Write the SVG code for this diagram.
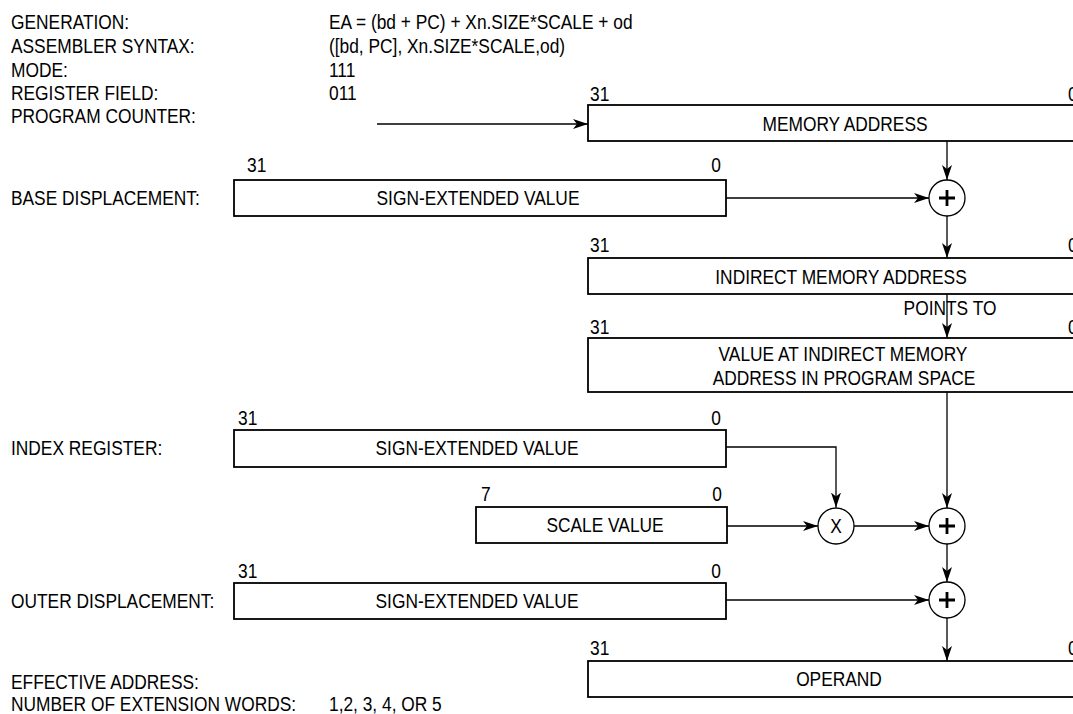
<svg xmlns="http://www.w3.org/2000/svg" width="1073" height="714" viewBox="0 0 1073 714">
<defs>
<style>
text{font-family:"Liberation Sans",Arial,sans-serif;font-size:19.5px;fill:#000}
.c{text-anchor:middle}
.e{text-anchor:end}
.box{fill:#fff;stroke:#000;stroke-width:1.8}
.ln{fill:none;stroke:#000;stroke-width:1.3}
.op{fill:#fff;stroke:#000;stroke-width:1.3}
.pl{fill:none;stroke:#000;stroke-width:2.8}
</style>
<marker id="ah" markerUnits="userSpaceOnUse" markerWidth="15" markerHeight="10" refX="15" refY="5" orient="auto">
<path d="M0,0 L15,5 L0,10 L4,5 Z" fill="#000"/>
</marker>
</defs>
<rect width="1073" height="714" fill="#fff"/>

<g id="header">
<text transform="translate(11 29) scale(0.89 1)">GENERATION:</text>
<text transform="translate(11 53) scale(0.89 1)">ASSEMBLER SYNTAX:</text>
<text transform="translate(11 77) scale(0.89 1)">MODE:</text>
<text transform="translate(11 100) scale(0.89 1)">REGISTER FIELD:</text>
<text transform="translate(11 123) scale(0.89 1)">PROGRAM COUNTER:</text>
<text transform="translate(329 29) scale(0.89 1)">EA = (bd + PC) + Xn.SIZE*SCALE + od</text>
<text transform="translate(329 53) scale(0.89 1)">([bd, PC], Xn.SIZE*SCALE,od)</text>
<text transform="translate(329 77) scale(0.89 1)">111</text>
<text transform="translate(329 100) scale(0.89 1)">011</text>
<text transform="translate(11 205) scale(0.89 1)">BASE DISPLACEMENT:</text>
<text transform="translate(11 455) scale(0.89 1)">INDEX REGISTER:</text>
<text transform="translate(11 608) scale(0.89 1)">OUTER DISPLACEMENT:</text>
<text transform="translate(11 689) scale(0.89 1)">EFFECTIVE ADDRESS:</text>
<text transform="translate(11 711) scale(0.89 1)">NUMBER OF EXTENSION WORDS:</text>
<text transform="translate(329 711) scale(0.89 1)">1,2, 3, 4, OR 5</text>
</g>

<g id="connectors">
<line class="ln" x1="377" y1="124" x2="588" y2="124" marker-end="url(#ah)"/>
<line class="ln" x1="947" y1="141" x2="947" y2="180" marker-end="url(#ah)"/>
<line class="ln" x1="726" y1="198" x2="929" y2="198" marker-end="url(#ah)"/>
<line class="ln" x1="947" y1="216" x2="947" y2="258" marker-end="url(#ah)"/>
<line class="ln" x1="947" y1="294" x2="947" y2="338" marker-end="url(#ah)"/>
<line class="ln" x1="947" y1="392" x2="947" y2="508" marker-end="url(#ah)"/>
<polyline class="ln" points="726,447 836,447 836,507.5" marker-end="url(#ah)"/>
<line class="ln" x1="727" y1="526" x2="818" y2="526" marker-end="url(#ah)"/>
<line class="ln" x1="854" y1="526" x2="929" y2="526" marker-end="url(#ah)"/>
<line class="ln" x1="947" y1="544" x2="947" y2="582" marker-end="url(#ah)"/>
<line class="ln" x1="726" y1="600" x2="929" y2="600" marker-end="url(#ah)"/>
<line class="ln" x1="947" y1="618" x2="947" y2="661" marker-end="url(#ah)"/>
</g>

<g id="memory-address">
<rect class="box" x="588" y="105" width="494" height="36"/>
<text transform="translate(590 101) scale(0.89 1)">31</text>
<text transform="translate(1068 101) scale(0.89 1)">0</text>
<text class="c" transform="translate(845 131) scale(0.89 1)">MEMORY ADDRESS</text>
</g>

<g id="base-displacement">
<rect class="box" x="234" y="180" width="492" height="36"/>
<text transform="translate(247 172) scale(0.89 1)">31</text>
<text class="e" transform="translate(721 172) scale(0.89 1)">0</text>
<text class="c" transform="translate(478 205) scale(0.89 1)">SIGN-EXTENDED VALUE</text>
</g>

<g id="add1">
<circle class="op" cx="947" cy="198" r="18"/>
<path class="pl" d="M939,198 H955 M947,190 V206"/>
</g>

<g id="indirect-memory-address">
<rect class="box" x="588" y="258" width="494" height="36"/>
<text transform="translate(590 252) scale(0.89 1)">31</text>
<text transform="translate(1068 252) scale(0.89 1)">0</text>
<text class="c" transform="translate(841 284) scale(0.89 1)">INDIRECT MEMORY ADDRESS</text>
</g>

<text class="c" transform="translate(950 315) scale(0.89 1)">POINTS TO</text>

<g id="value-at-indirect">
<rect class="box" x="588" y="338" width="494" height="54"/>
<text transform="translate(590 334) scale(0.89 1)">31</text>
<text transform="translate(1068 334) scale(0.89 1)">0</text>
<text class="c" transform="translate(843 361) scale(0.89 1)">VALUE AT INDIRECT MEMORY</text>
<text class="c" transform="translate(844 385) scale(0.89 1)">ADDRESS IN PROGRAM SPACE</text>
</g>

<g id="index-register">
<rect class="box" x="234" y="430" width="492" height="37"/>
<text transform="translate(238 425) scale(0.89 1)">31</text>
<text class="e" transform="translate(721 425) scale(0.89 1)">0</text>
<text class="c" transform="translate(477 455) scale(0.89 1)">SIGN-EXTENDED VALUE</text>
</g>

<g id="scale-value">
<rect class="box" x="476" y="507" width="251" height="36"/>
<text transform="translate(481 501) scale(0.89 1)">7</text>
<text class="e" transform="translate(722 501) scale(0.89 1)">0</text>
<text class="c" transform="translate(605 532) scale(0.89 1)">SCALE VALUE</text>
</g>

<g id="multiply">
<circle class="op" cx="836" cy="526" r="18"/>
<text class="c" transform="translate(836 533) scale(0.89 1)">X</text>
</g>

<g id="add2">
<circle class="op" cx="947" cy="526" r="18"/>
<path class="pl" d="M939,526 H955 M947,518 V534"/>
</g>

<g id="outer-displacement">
<rect class="box" x="234" y="583" width="492" height="36"/>
<text transform="translate(238 578) scale(0.89 1)">31</text>
<text class="e" transform="translate(721 578) scale(0.89 1)">0</text>
<text class="c" transform="translate(477 608) scale(0.89 1)">SIGN-EXTENDED VALUE</text>
</g>

<g id="add3">
<circle class="op" cx="947" cy="600" r="18"/>
<path class="pl" d="M939,600 H955 M947,592 V608"/>
</g>

<g id="operand">
<rect class="box" x="588" y="661" width="494" height="36"/>
<text transform="translate(590 655) scale(0.89 1)">31</text>
<text transform="translate(1068 655) scale(0.89 1)">0</text>
<text class="c" transform="translate(839 686) scale(0.89 1)">OPERAND</text>
</g>
</svg>
